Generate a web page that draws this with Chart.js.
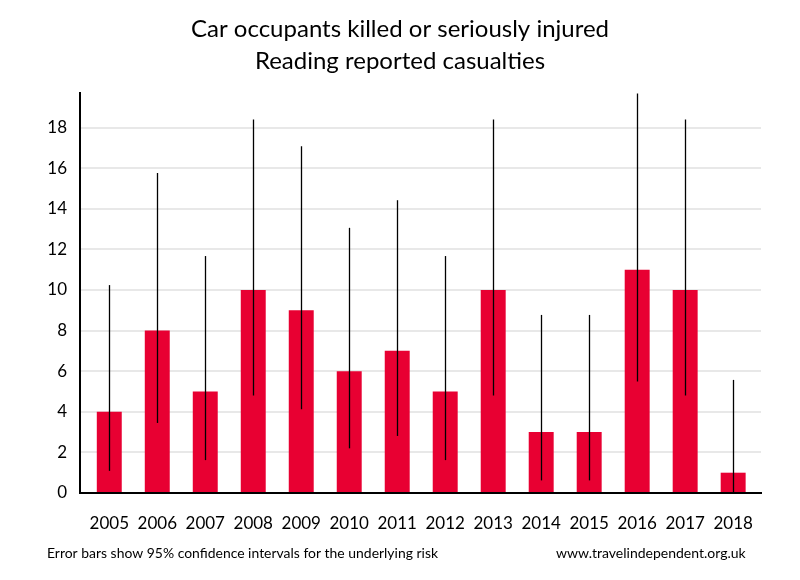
<!DOCTYPE html>
<html>
<head>
<meta charset="utf-8">
<script src="https://cdn.jsdelivr.net/npm/chart.js@4"></script>
<style>
  html, body { margin: 0; padding: 0; background: #fff; }
  #wrap { width: 800px; height: 580px; position: relative; }
</style>
</head>
<body>
<div id="wrap"><canvas id="chart" width="800" height="580"></canvas></div>
<script>
// values
const years = [2005, 2006, 2007, 2008, 2009, 2010, 2011, 2012, 2013, 2014, 2015, 2016, 2017, 2018];
const casualties = [4, 8, 5, 10, 9, 6, 7, 5, 10, 3, 3, 11, 10, 1];
const ciLow  = [1.09, 3.45, 1.62, 4.80, 4.12, 2.20, 2.81, 1.62, 4.80, 0.62, 0.62, 5.49, 4.80, 0.03];
const ciHigh = [10.24, 15.76, 11.67, 18.39, 17.08, 13.06, 14.42, 11.67, 18.39, 8.77, 8.77, 19.68, 18.39, 5.57];
const yTicks = [0, 2, 4, 6, 8, 10, 12, 14, 16, 18];

const titleLines = ['Car occupants killed or seriously injured', 'Reading reported casualties'];
const footLeft = 'Error bars show 95% confidence intervals for the underlying risk';
const footRight = 'www.travelindependent.org.uk';

const FONT = 'Lato, "Noto Sans", sans-serif';

const errorBars = {
  id: 'errorBars',
  afterDatasetsDraw(chart) {
    const ctx = chart.ctx, y = chart.scales.y;
    const meta = chart.getDatasetMeta(0);
    ctx.save();
    ctx.strokeStyle = '#000';
    ctx.lineWidth = 1.3;
    meta.data.forEach((bar, i) => {
      ctx.beginPath();
      ctx.moveTo(Math.round(bar.x) + 0.5, y.getPixelForValue(ciLow[i]));
      ctx.lineTo(Math.round(bar.x) + 0.5, y.getPixelForValue(ciHigh[i]));
      ctx.stroke();
    });
    ctx.restore();
  }
};

const texts = {
  id: 'texts',
  afterDraw(chart) {
    const ctx = chart.ctx;
    ctx.save();
    ctx.fillStyle = '#000';
    ctx.textAlign = 'center';
    ctx.textBaseline = 'middle';
    ctx.font = '24px ' + FONT;
    ctx.fillText(titleLines[0], 400, 29, 424);
    ctx.fillText(titleLines[1], 400, 61, 296);
    ctx.font = '14px ' + FONT;
    ctx.textAlign = 'left';
    ctx.fillText(footLeft, 47, 553, 391);
    ctx.fillText(footRight, 556, 553, 196);
    ctx.restore();
  }
};

new Chart(document.getElementById('chart'), {
  type: 'bar',
  data: {
    datasets: [{
      data: years.map((yr, i) => ({ x: yr, y: casualties[i] })),
      backgroundColor: '#E80032',
      borderWidth: 0,
      barPercentage: 0.52,
      categoryPercentage: 1
    }]
  },
  options: {
    responsive: false,
    animation: false,
    devicePixelRatio: 1,
    layout: { padding: { top: 93, right: 39, left: 0, bottom: 0 } },
    plugins: { legend: { display: false }, tooltip: { enabled: false }, title: { display: false } },
    scales: {
      x: {
        type: 'linear',
        offset: false,
        min: 2004.39,
        max: 2018.58,
        afterFit: s => { s.height = 87; },
        afterBuildTicks: s => { s.ticks = years.map(v => ({ value: v })); },
        grid: { display: false, drawTicks: false, offset: false },
        border: { color: '#000', width: 2 },
        ticks: {
          padding: 20,
          color: '#000',
          font: { family: FONT, size: 17 },
          callback: v => String(v),
          autoSkip: false,
          maxRotation: 0
        }
      },
      y: {
        min: 0,
        max: 19.7,
        afterFit: s => { s.width = 80; },
        afterBuildTicks: s => { s.ticks = yTicks.map(v => ({ value: v })); },
        grid: { color: '#e8e8e8', lineWidth: 2, drawTicks: false },
        border: { color: '#000', width: 2 },
        ticks: {
          padding: 13,
          color: '#000',
          font: { family: FONT, size: 17 }
        }
      }
    }
  },
  plugins: [errorBars, texts]
});
</script>
</body>
</html>
